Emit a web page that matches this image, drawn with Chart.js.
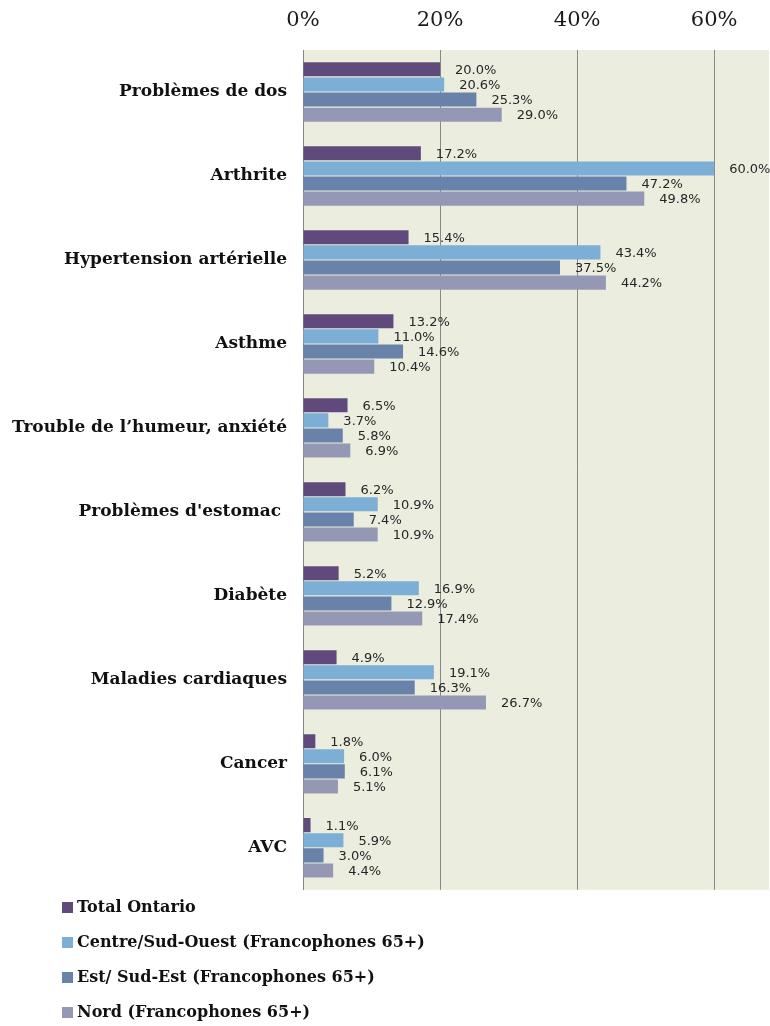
<!DOCTYPE html>
<html>
<head>
<meta charset="utf-8">
<script src="https://cdn.jsdelivr.net/npm/chart.js@4.4.1/dist/chart.umd.min.js"></script>
<style>
  html, body { margin: 0; padding: 0; background: #ffffff; overflow: hidden; }
  #wrap { position: relative; width: 770px; height: 1026px; }
  #chartBox { position: absolute; left: 0; top: 0; width: 770px; height: 908px; }
  #legend { position: absolute; left: 62px; top: 897px; font-family: "DejaVu Serif", serif; font-weight: bold; font-size: 16px; color: #111; }
  #legend .item { height: 35px; display: flex; align-items: flex-start; white-space: nowrap; }
  #legend .sw { width: 11px; height: 11px; margin-right: 4px; margin-top: 5px; flex: none; }
</style>
</head>
<body>
<div id="wrap">
  <div id="chartBox"><canvas id="c"></canvas></div>
  <div id="legend"></div>
</div>
<script>
const categories = [
  "Problèmes de dos",
  "Arthrite",
  "Hypertension artérielle",
  "Asthme",
  "Trouble de l\u2019humeur, anxiété",
  "Problèmes d'estomac ",
  "Diabète",
  "Maladies cardiaques",
  "Cancer",
  "AVC"
];
const seriesNames = [
  "Total Ontario",
  "Centre/Sud-Ouest (Francophones 65+)",
  "Est/ Sud-Est (Francophones 65+)",
  "Nord (Francophones 65+)"
];
const totalOntario  = [20.0, 17.2, 15.4, 13.2, 6.5, 6.2, 5.2, 4.9, 1.8, 1.1];
const centreSudOuest = [20.6, 60.0, 43.4, 11.0, 3.7, 10.9, 16.9, 19.1, 6.0, 5.9];
const estSudEst     = [25.3, 47.2, 37.5, 14.6, 5.8, 7.4, 12.9, 16.3, 6.1, 3.0];
const nord          = [29.0, 49.8, 44.2, 10.4, 6.9, 10.9, 17.4, 26.7, 5.1, 4.4];
const tickValues = [0, 20, 40, 60];
const seriesColors = ["#5F4A7B", "#7DAED5", "#6882A9", "#9598B5"];

const seriesData = [totalOntario, centreSudOuest, estSudEst, nord];

const plotBg = {
  id: 'plotBg',
  beforeDraw(chart) {
    const {ctx, chartArea: a} = chart;
    ctx.save();
    ctx.fillStyle = '#EBEEDF';
    ctx.fillRect(a.left, a.top, a.right - a.left, a.bottom - a.top);
    ctx.restore();
  }
};

const valueLabels = {
  id: 'valueLabels',
  afterDatasetsDraw(chart) {
    const ctx = chart.ctx;
    ctx.save();
    ctx.font = '13px "DejaVu Sans", sans-serif';
    ctx.fillStyle = '#262626';
    ctx.textAlign = 'left';
    ctx.textBaseline = 'middle';
    chart.data.datasets.forEach((ds, i) => {
      const meta = chart.getDatasetMeta(i);
      meta.data.forEach((bar, j) => {
        const v = ds.data[j];
        ctx.fillText(v.toFixed(1) + '%', bar.x + 15, bar.y + 1);
      });
    });
    ctx.restore();
  }
};

const chart = new Chart(document.getElementById('c'), {
  type: 'bar',
  data: {
    labels: categories,
    datasets: seriesNames.map((n, i) => ({
      label: n,
      data: seriesData[i],
      backgroundColor: seriesColors[i],
      borderWidth: 0,
      categoryPercentage: 0.72,
      barPercentage: 0.93
    }))
  },
  options: {
    indexAxis: 'y',
    responsive: true,
    maintainAspectRatio: false,
    animation: false,
    layout: { padding: { left: 0, right: 1, top: 0, bottom: 0 } },
    plugins: {
      legend: { display: false },
      tooltip: { enabled: false }
    },
    scales: {
      x: {
        position: 'top',
        min: 0,
        max: 68,
        ticks: {
          stepSize: 20,
          padding: 17,
          color: '#1a1a1a',
          font: { family: '"DejaVu Serif", serif', size: 21 },
          callback: v => v + '%'
        },
        afterBuildTicks: s => { s.ticks = s.ticks.filter(t => tickValues.includes(t.value)); },
        afterFit: s => { s.height = 50; },
        grid: { color: '#878787', lineWidth: 1, drawTicks: false },
        border: { display: false }
      },
      y: {
        ticks: {
          padding: 8,
          color: '#111111',
          font: { family: '"DejaVu Serif", serif', size: 17, weight: 'bold' }
        },
        afterFit: s => { s.width = 303; },
        grid: { display: false },
        border: { display: true, color: '#878787', width: 1 }
      }
    }
  },
  plugins: [plotBg, valueLabels]
});

const legendEl = document.getElementById('legend');
chart.data.datasets.forEach(ds => {
  const item = document.createElement('div');
  item.className = 'item';
  const sw = document.createElement('span');
  sw.className = 'sw';
  sw.style.background = ds.backgroundColor;
  const tx = document.createElement('span');
  tx.textContent = ds.label;
  item.appendChild(sw);
  item.appendChild(tx);
  legendEl.appendChild(item);
});
</script>
</body>
</html>
